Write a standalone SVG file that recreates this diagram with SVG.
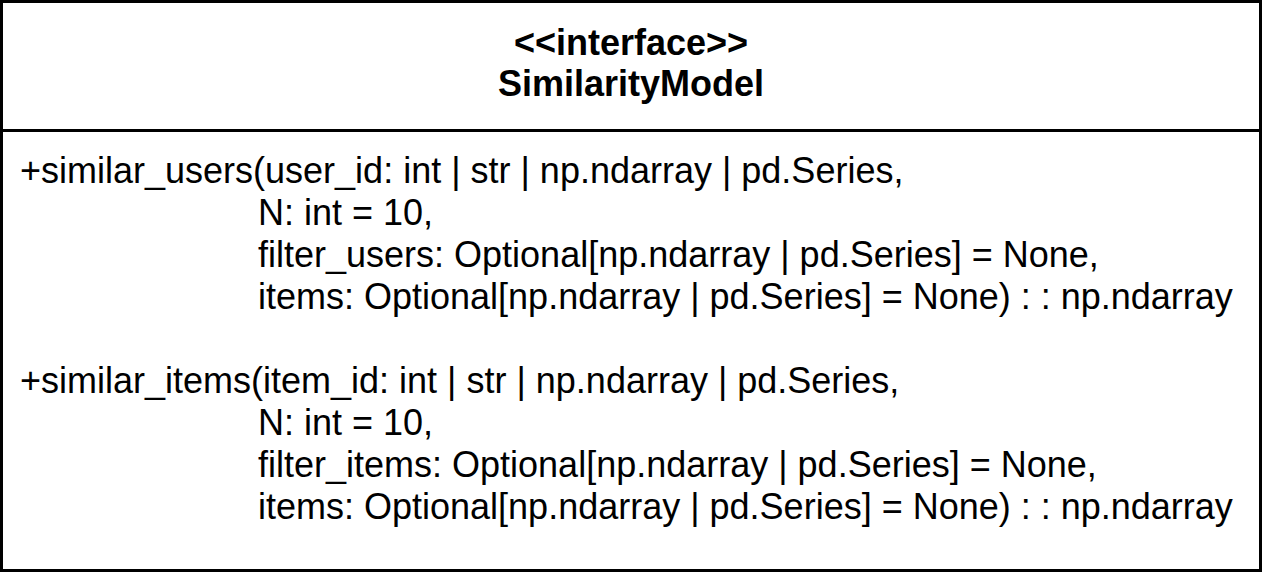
<svg xmlns="http://www.w3.org/2000/svg" width="1263" height="582" viewBox="0 0 1263 582">
<style>
.t{font-family:"Liberation Sans",Arial,sans-serif;font-size:36px;fill:#000}
.b{font-weight:bold;text-anchor:middle}
</style>
<rect width="1263" height="582" fill="#fff"/>
<g id="SimilarityModel">
<rect x="1.5" y="1.5" width="1259" height="569" fill="#fff" stroke="#000" stroke-width="3"/>
<line x1="1.5" y1="130.5" x2="1260.5" y2="130.5" stroke="#000" stroke-width="3"/>
<text class="t b" x="631" y="55">&lt;&lt;interface&gt;&gt;</text>
<text class="t b" x="631" y="96">SimilarityModel</text>
<text class="t" x="20" y="183">+similar_users(user_id: int | str | np.ndarray | pd.Series,</text>
<text class="t" x="258" y="225">N: int = 10,</text>
<text class="t" x="258" y="267">filter_users: Optional[np.ndarray | pd.Series] = None,</text>
<text class="t" x="258" y="309">items: Optional[np.ndarray | pd.Series] = None) : : np.ndarray</text>
<text class="t" x="20" y="393">+similar_items(item_id: int | str | np.ndarray | pd.Series,</text>
<text class="t" x="258" y="435">N: int = 10,</text>
<text class="t" x="258" y="477">filter_items: Optional[np.ndarray | pd.Series] = None,</text>
<text class="t" x="258" y="519">items: Optional[np.ndarray | pd.Series] = None) : : np.ndarray</text>
</g>
<g id="connectors"/>
</svg>
